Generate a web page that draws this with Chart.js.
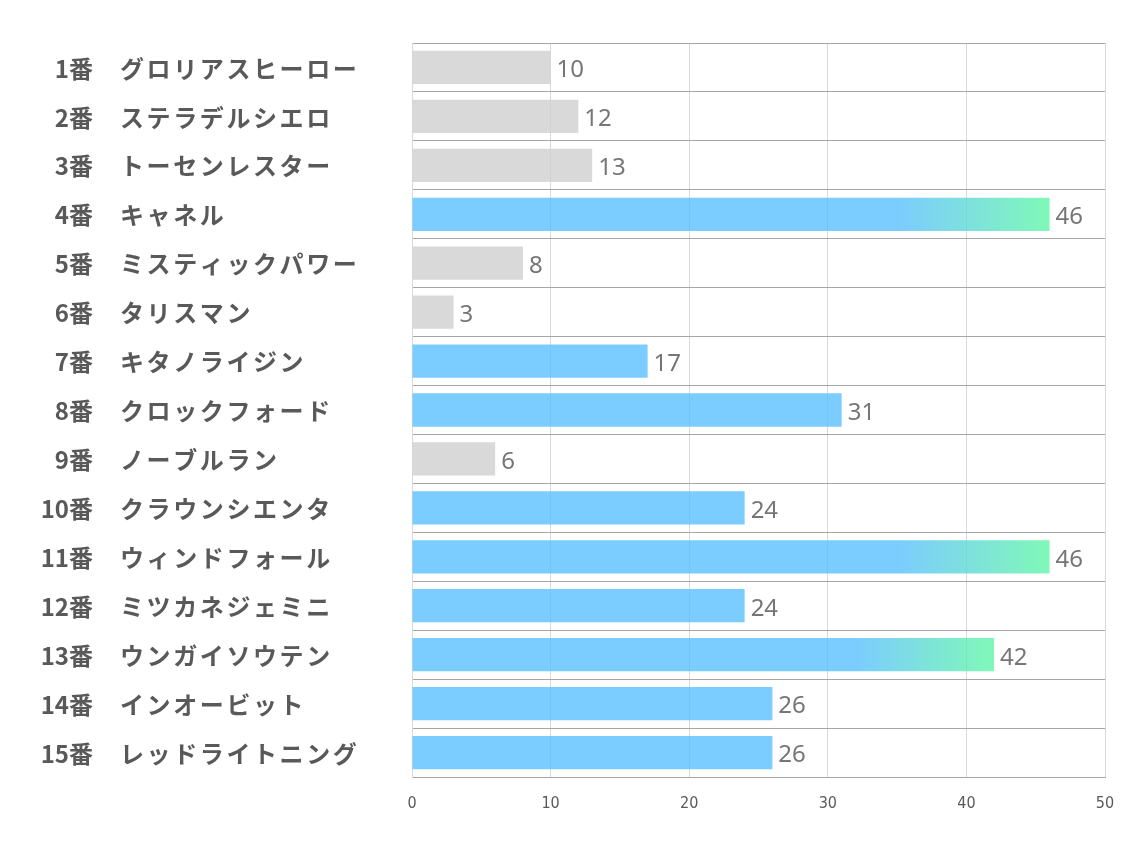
<!DOCTYPE html>
<html>
<head>
<meta charset="utf-8">
<script src="https://cdn.jsdelivr.net/npm/chart.js@4/dist/chart.umd.min.js"></script>
<style>
  html, body { margin: 0; padding: 0; background: #fff; }
  #wrap { width: 1134px; height: 850px; }
</style>
</head>
<body>
<div id="wrap"><canvas id="myChart" width="1134" height="850"></canvas></div>
<script>
// 馬番と馬名
var horse_no = ['1番', '2番', '3番', '4番', '5番', '6番', '7番', '8番', '9番', '10番', '11番', '12番', '13番', '14番', '15番'];
var horse_names = ['グロリアスヒーロー', 'ステラデルシエロ', 'トーセンレスター', 'キャネル', 'ミスティックパワー',
	'タリスマン', 'キタノライジン', 'クロックフォード', 'ノーブルラン', 'クラウンシエンタ',
	'ウィンドフォール', 'ミツカネジェミニ', 'ウンガイソウテン', 'インオービット', 'レッドライトニング'];
var graph_values = [10, 12, 13, 46, 8, 3, 17, 31, 6, 24, 46, 24, 42, 26, 26];
var x_ticks = [0, 10, 20, 30, 40, 50];

var GRAY = 'rgba(207,207,207,0.8)';
var BLUE = 'rgba(90,191,255,0.8)';
var GREEN = 'rgba(96,246,166,0.8)';

function barColor(c) {
	var v = c.raw;
	if (v < 15) return GRAY;
	if (v < 40) return BLUE;
	var chart = c.chart;
	if (!chart.chartArea) return BLUE;
	var xs = chart.scales.x;
	var x0 = xs.getPixelForValue(0), x1 = xs.getPixelForValue(v);
	var g = chart.ctx.createLinearGradient(x0, 0, x1, 0);
	g.addColorStop(0, BLUE);
	g.addColorStop(0.76, BLUE);
	g.addColorStop(1, GREEN);
	return g;
}

// 左側のラベル
var sideLabels = {
	id: 'sideLabels',
	afterDraw: function(chart) {
		var ctx = chart.ctx, ys = chart.scales.y;
		ctx.save();
		ctx.fillStyle = '#595959';
		ctx.textBaseline = 'middle';
		ctx.font = 'bold 24px "Noto Sans CJK JP"';
		for (var i = 0; i < horse_no.length; i++) {
			var y = ys.getPixelForTick(i) + 1;
			ctx.textAlign = 'right';
			ctx.letterSpacing = '0px';
			ctx.fillText(horse_no[i], 93, y);
			ctx.textAlign = 'left';
			ctx.letterSpacing = '2.6px';
			ctx.fillText(horse_names[i], 120, y);
		}
		ctx.restore();
	}
};

// 数値ラベル
var valueLabels = {
	id: 'valueLabels',
	afterDatasetsDraw: function(chart) {
		var ctx = chart.ctx;
		var meta = chart.getDatasetMeta(0);
		ctx.save();
		ctx.fillStyle = '#767676';
		ctx.font = '24px "Noto Sans", "Open Sans", sans-serif';
		ctx.textAlign = 'left';
		ctx.textBaseline = 'middle';
		meta.data.forEach(function(bar, i) {
			ctx.fillText(String(graph_values[i]), bar.x + 6, bar.y + 3);
		});
		ctx.restore();
	}
};

window.onload = function() {
	var ctx = document.getElementById('myChart');
	var data = {
		labels: horse_names,
		datasets: [{
			data: graph_values,
			backgroundColor: barColor,
			borderWidth: 0,
			barPercentage: 0.68,
			categoryPercentage: 1
		}]
	};
	var options = {
		indexAxis: 'y',
		responsive: false,
		animation: false,
		layout: { padding: { left: 412, right: 29, top: 43, bottom: 0 } },
		plugins: {
			legend: { display: false },
			tooltip: { enabled: false }
		},
		scales: {
			x: {
				min: 0,
				max: 50,
				afterBuildTicks: function(s) { s.ticks = x_ticks.map(function(v) { return { value: v }; }); },
				afterFit: function(s) { s.height = 73; },
				grid: { color: '#d9d9d9', drawTicks: false },
				border: { color: '#a6a6a6' },
				ticks: {
					padding: 17,
					color: '#595959',
					font: { family: '"Liberation Sans Narrow", "DejaVu Sans Condensed", sans-serif', size: 16 }
				}
			},
			y: {
				afterFit: function(s) { s.width = 0; },
				grid: { color: '#a6a6a6', drawTicks: false, offset: true },
				border: { color: '#d9d9d9' },
				ticks: { display: false }
			}
		}
	};
	new Chart(ctx, {
		type: 'bar',
		data: data,
		options: options,
		plugins: [sideLabels, valueLabels]
	});
};
</script>
</body>
</html>
